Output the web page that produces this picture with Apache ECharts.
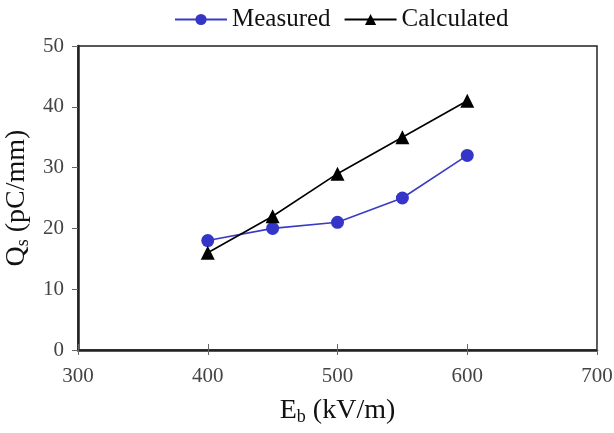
<!DOCTYPE html>
<html><head><meta charset="utf-8">
<script src="https://cdn.jsdelivr.net/npm/echarts@6/dist/echarts.min.js"></script>
<style>html,body{margin:0;padding:0;background:#fff}#c{width:614px;height:433px}</style>
</head><body><div id="c"></div>
<script>
const xValues = [400, 450, 500, 550, 600];
const measured = [18, 20, 21, 25, 32];
const calculated = [16, 22, 29, 35, 41];
const xTicks = [300, 400, 500, 600, 700];
const yTicks = [0, 10, 20, 30, 40, 50];

const font = 'Liberation Serif';
const chart = echarts.init(document.getElementById('c'));
chart.setOption({
  animation: false,
  backgroundColor: '#fff',
  textStyle: { fontFamily: font },
  legend: {
    top: 2, left: 169, itemWidth: 52, itemHeight: 14, itemGap: 13,
    textStyle: { fontFamily: font, fontSize: 25, color: '#111' },
    data: ['Measured', 'Calculated']
  },
  grid: { left: 78, right: 17, top: 46, bottom: 83, containLabel: false, outerBoundsMode: 'none', show: true, borderColor: '#222', borderWidth: 1.5, backgroundColor: 'transparent' },
  xAxis: [{
    type: 'value', min: xTicks[0], max: xTicks[xTicks.length - 1], interval: 100,
    name: '{a|E}{s|b}{a| (kV/m)}', nameLocation: 'middle', nameGap: 46,
    nameTextStyle: { rich: { a: { fontFamily: font, fontSize: 28, color: '#111' }, s: { fontFamily: font, fontSize: 18, color: '#111', verticalAlign: 'bottom', padding: [12, 0, 0, 0] } } },
    axisLine: { lineStyle: { color: '#222', width: 2.5 } },
    axisTick: { length: 5, lineStyle: { color: '#666', width: 1 } },
    axisLabel: { fontFamily: font, fontSize: 21, color: '#444', margin: 16 },
    splitLine: { show: false }
  }, {
    type: 'value', min: xTicks[0], max: xTicks[xTicks.length - 1], interval: 100, position: 'bottom',
    axisLine: { show: false }, axisLabel: { show: false }, splitLine: { show: false },
    axisTick: { inside: true, length: 6, lineStyle: { color: '#666', width: 1 } }
  }],
  yAxis: {
    type: 'value', min: yTicks[0], max: yTicks[yTicks.length - 1], interval: 10,
    name: '{a|Q}{s|s}{a| (pC/mm)}', nameLocation: 'middle', nameGap: 46, nameRotate: 90,
    nameTextStyle: { rich: { a: { fontFamily: font, fontSize: 28, color: '#111' }, s: { fontFamily: font, fontSize: 18, color: '#111', verticalAlign: 'bottom', padding: [12, 0, 0, 0] } } },
    axisLine: { show: true, lineStyle: { color: '#222', width: 2.5 } },
    axisTick: { show: true, length: 6, lineStyle: { color: '#666', width: 1 } },
    axisLabel: { fontFamily: font, fontSize: 21, color: '#444', margin: 14 },
    splitLine: { show: false }
  },
  series: [{
    name: 'Measured', type: 'line',
    data: xValues.map((x, i) => [x, measured[i]]),
    symbol: 'circle', symbolSize: 13,
    lineStyle: { color: '#3a3ac4', width: 1.6 },
    itemStyle: { color: '#3535c8' }
  }, {
    name: 'Calculated', type: 'line',
    data: xValues.map((x, i) => [x, calculated[i]]),
    symbol: 'triangle', symbolSize: 14,
    lineStyle: { color: '#000', width: 1.6 },
    itemStyle: { color: '#000' }
  }]
});
</script></body></html>
